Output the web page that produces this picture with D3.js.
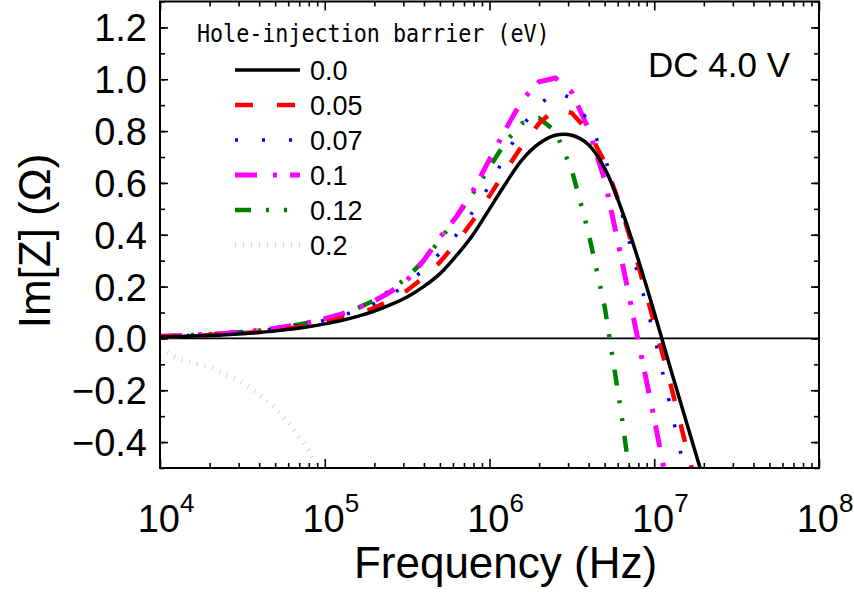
<!DOCTYPE html>
<html>
<head>
<meta charset="utf-8">
<script src="https://cdn.jsdelivr.net/npm/d3@7"></script>
<style>
  body { margin: 0; background: #fff; }
  svg { display: block; }
</style>
</head>
<body>
<div id="container"></div>
<script>
/* DATA */
// frequency grid (Hz), 10 points per decade
var freqs = [1.00e4, 1.26e4, 1.58e4, 2.00e4, 2.51e4, 3.16e4, 3.98e4, 5.01e4, 6.31e4, 7.94e4,
             1.00e5, 1.26e5, 1.58e5, 2.00e5, 2.51e5, 3.16e5, 3.98e5, 5.01e5, 6.31e5, 7.94e5,
             1.00e6, 1.26e6, 1.58e6, 2.00e6, 2.51e6, 3.16e6, 3.98e6, 5.01e6, 6.31e6, 7.94e6,
             1.00e7, 1.26e7, 1.58e7, 2.00e7, 2.51e7];

var barrier00 = [0.005, 0.007, 0.009, 0.011, 0.014, 0.018, 0.023, 0.029, 0.036, 0.045,
                 0.056, 0.069, 0.085, 0.105, 0.13, 0.16, 0.20, 0.25, 0.32, 0.40,
                 0.50, 0.60, 0.69, 0.752, 0.784, 0.784, 0.748, 0.655, 0.50, 0.31,
                 0.10, -0.12, -0.33, -0.55, -0.77];
var barrier005 = [0.006, 0.008, 0.010, 0.013, 0.016, 0.020, 0.025, 0.032, 0.040, 0.050,
                  0.062, 0.077, 0.095, 0.118, 0.148, 0.185, 0.235, 0.295, 0.37, 0.455,
                  0.55, 0.65, 0.745, 0.83, 0.885, 0.87, 0.80, 0.68, 0.50, 0.29,
                  0.06, -0.18, -0.43, -0.68, -0.92];
var barrier007 = [0.007, 0.009, 0.012, 0.015, 0.018, 0.023, 0.029, 0.036, 0.045, 0.056,
                  0.070, 0.087, 0.108, 0.134, 0.167, 0.21, 0.265, 0.33, 0.40, 0.49,
                  0.59, 0.71, 0.82, 0.90, 0.955, 0.925, 0.84, 0.70, 0.49, 0.25,
                  0.01, -0.27, -0.55, null, null];
var barrier01 = [0.008, 0.010, 0.013, 0.016, 0.020, 0.025, 0.031, 0.039, 0.049, 0.061,
                 0.076, 0.094, 0.117, 0.145, 0.18, 0.225, 0.30, 0.39, 0.47, 0.57,
                 0.69, 0.81, 0.92, 0.99, 1.005, 0.95, 0.81, 0.61, 0.31, 0.0,
                 -0.31, -0.64, null, null, null];
var barrier012 = [0.008, 0.010, 0.013, 0.016, 0.020, 0.025, 0.031, 0.039, 0.049, 0.061,
                  0.076, 0.094, 0.117, 0.147, 0.185, 0.235, 0.30, 0.38, 0.47, 0.56,
                  0.66, 0.76, 0.83, 0.85, 0.80, 0.65, 0.41, 0.12, -0.29, -0.75,
                  null, null, null, null, null];
var barrier02 = [-0.04, -0.075, -0.095, -0.11, -0.14, -0.17, -0.215, -0.27, -0.34, -0.43,
                 -0.55, -0.70, null, null, null, null, null, null, null, null,
                 null, null, null, null, null, null, null, null, null, null,
                 null, null, null, null, null];

var seriesLabels = ["0.0", "0.05", "0.07", "0.1", "0.12", "0.2"];
var yTicks = [-0.4, -0.2, 0.0, 0.2, 0.4, 0.6, 0.8, 1.0, 1.2];
var xTickExp = [4, 5, 6, 7, 8];

/* CONSTANTS */
var width = 854, height = 594;
var plotL = 160, plotR = 819, plotT = 1.5, plotB = 468;

var series = [
  {label: seriesLabels[0], values: barrier00, color: "#000000", w: 3.5, dash: null, smooth: true},
  {label: seriesLabels[1], values: barrier005, color: "#ff0000", w: 4.5, dash: "18,24"},
  {label: seriesLabels[2], values: barrier007, color: "#0000ff", w: 3.5, dash: "3,24"},
  {label: seriesLabels[3], values: barrier01, color: "#ff00ff", w: 5, dash: "22,16,4,13"},
  {label: seriesLabels[4], values: barrier012, color: "#008000", w: 4.5, dash: "16,15,3,15,3,15"},
  {label: seriesLabels[5], values: barrier02, color: "#d9ccf5", w: 5, dash: "1,7"}
];

/* SCALES */
var x = d3.scaleLog().domain([1e4, 1e8]).range([plotL, plotR]);
var y = d3.scaleLinear().domain([-0.5, 1.3]).range([plotB, plotT]);

var svg = d3.select('#container').append('svg')
  .attr('width', width)
  .attr('height', height);

svg.append('defs').append('clipPath').attr('id', 'plotclip')
  .append('rect')
  .attr('x', plotL).attr('y', plotT)
  .attr('width', plotR - plotL).attr('height', plotB - plotT);

// zero line
svg.append('line')
  .attr('x1', plotL).attr('x2', plotR)
  .attr('y1', y(0)).attr('y2', y(0))
  .attr('stroke', '#000').attr('stroke-width', 1.7);

/* CURVES */
var curves = svg.append('g').attr('clip-path', 'url(#plotclip)');
series.slice().reverse().forEach(function(s) {
  var line = d3.line()
    .defined(function(d) { return d[1] != null; })
    .x(function(d) { return x(d[0]); })
    .y(function(d) { return y(d[1]); })
    .curve(s.smooth ? d3.curveCatmullRom : d3.curveLinear);
  var pts = freqs.map(function(f, i) { return [f, s.values[i]]; });
  curves.append('path')
    .attr('d', line(pts))
    .attr('fill', 'none')
    .attr('stroke', s.color)
    .attr('stroke-width', s.w)
    .attr('stroke-dasharray', s.dash);
});

/* AXES */
var xMinor = [];
for (var e = 4; e < 8; e++) {
  for (var k = 2; k <= 9; k++) xMinor.push(k * Math.pow(10, e));
}
var xMajor = xTickExp.map(function(p) { return Math.pow(10, p); });
var yMinor = d3.range(-5, 14).map(function(i) { return i / 10; });

function tickGroup(axis, tx, ty) {
  var g = svg.append('g').attr('transform', 'translate(' + tx + ',' + ty + ')').call(axis);
  g.selectAll('.domain').remove();
  g.selectAll('line').attr('stroke', '#000').attr('stroke-width', 1.6);
  g.selectAll('text').remove();
  return g;
}
tickGroup(d3.axisBottom(x).tickValues(xMajor).tickSize(-9), 0, plotB);
tickGroup(d3.axisBottom(x).tickValues(xMinor).tickSize(-5), 0, plotB);
tickGroup(d3.axisTop(x).tickValues(xMajor).tickSize(-9), 0, plotT);
tickGroup(d3.axisTop(x).tickValues(xMinor).tickSize(-5), 0, plotT);
tickGroup(d3.axisLeft(y).tickValues(yMinor).tickSize(-5), plotL, 0);
tickGroup(d3.axisLeft(y).tickValues(yTicks).tickSize(-8), plotL, 0);
tickGroup(d3.axisRight(y).tickValues(yMinor).tickSize(-5), plotR, 0);
tickGroup(d3.axisRight(y).tickValues(yTicks).tickSize(-8), plotR, 0);

// frame
svg.append('rect')
  .attr('x', plotL).attr('y', plotT)
  .attr('width', plotR - plotL).attr('height', plotB - plotT)
  .attr('fill', 'none').attr('stroke', '#000').attr('stroke-width', 2);

// y tick labels
var fmt = d3.format(".1f");
svg.append('g').selectAll('text').data(yTicks).enter().append('text')
  .attr('x', 147)
  .attr('y', function(d) { return y(d) + 14; })
  .attr('text-anchor', 'end')
  .style('font-family', '"Liberation Sans", Arial, sans-serif')
  .style('font-size', '38px')
  .text(function(d) { return fmt(d); });

// x tick labels 10^n
var xl = svg.append('g').selectAll('text').data(xTickExp).enter().append('text')
  .attr('x', function(d) { return x(Math.pow(10, d)) + 6; })
  .attr('y', 532)
  .attr('text-anchor', 'middle')
  .style('font-family', '"Liberation Sans", Arial, sans-serif')
  .style('font-size', '38px');
xl.append('tspan').text('10');
xl.append('tspan').attr('dy', -20).style('font-size', '26px').text(function(d) { return d; });

// axis titles
svg.append('text')
  .attr('x', (plotL + plotR) / 2 + 16)
  .attr('y', 578)
  .attr('text-anchor', 'middle')
  .style('font-family', '"Liberation Sans", Arial, sans-serif')
  .style('font-size', '44px')
  .text('Frequency (Hz)');

svg.append('text')
  .attr('transform', 'translate(50,241) rotate(-90)')
  .attr('text-anchor', 'middle')
  .style('font-family', '"Liberation Sans", Arial, sans-serif')
  .style('font-size', '44px')
  .text('Im[Z] (\u03A9)');

svg.append('text')
  .attr('x', 648)
  .attr('y', 77)
  .style('font-family', '"Liberation Sans", Arial, sans-serif')
  .style('font-size', '35px')
  .text('DC 4.0 V');

/* LEGEND */
svg.append('text')
  .attr('transform', 'translate(197,42) scale(1,1.15)')
  .style('font-family', '"DejaVu Sans Mono", monospace')
  .style('font-size', '21.7px')
  .text('Hole-injection barrier (eV)');

var leg = svg.append('g').selectAll('g').data(series).enter().append('g')
  .attr('transform', function(d, i) { return 'translate(0,' + (70 + i * 35) + ')'; });
leg.append('line')
  .attr('x1', 235).attr('x2', 300)
  .attr('stroke', function(d) { return d.color; })
  .attr('stroke-width', function(d) { return d.w; })
  .attr('stroke-dasharray', function(d) { return d.dash; });
leg.append('text')
  .attr('x', 310)
  .attr('y', 10)
  .style('font-family', '"Liberation Sans", Arial, sans-serif')
  .style('font-size', '27px')
  .text(function(d) { return d.label; });
</script>
</body>
</html>
